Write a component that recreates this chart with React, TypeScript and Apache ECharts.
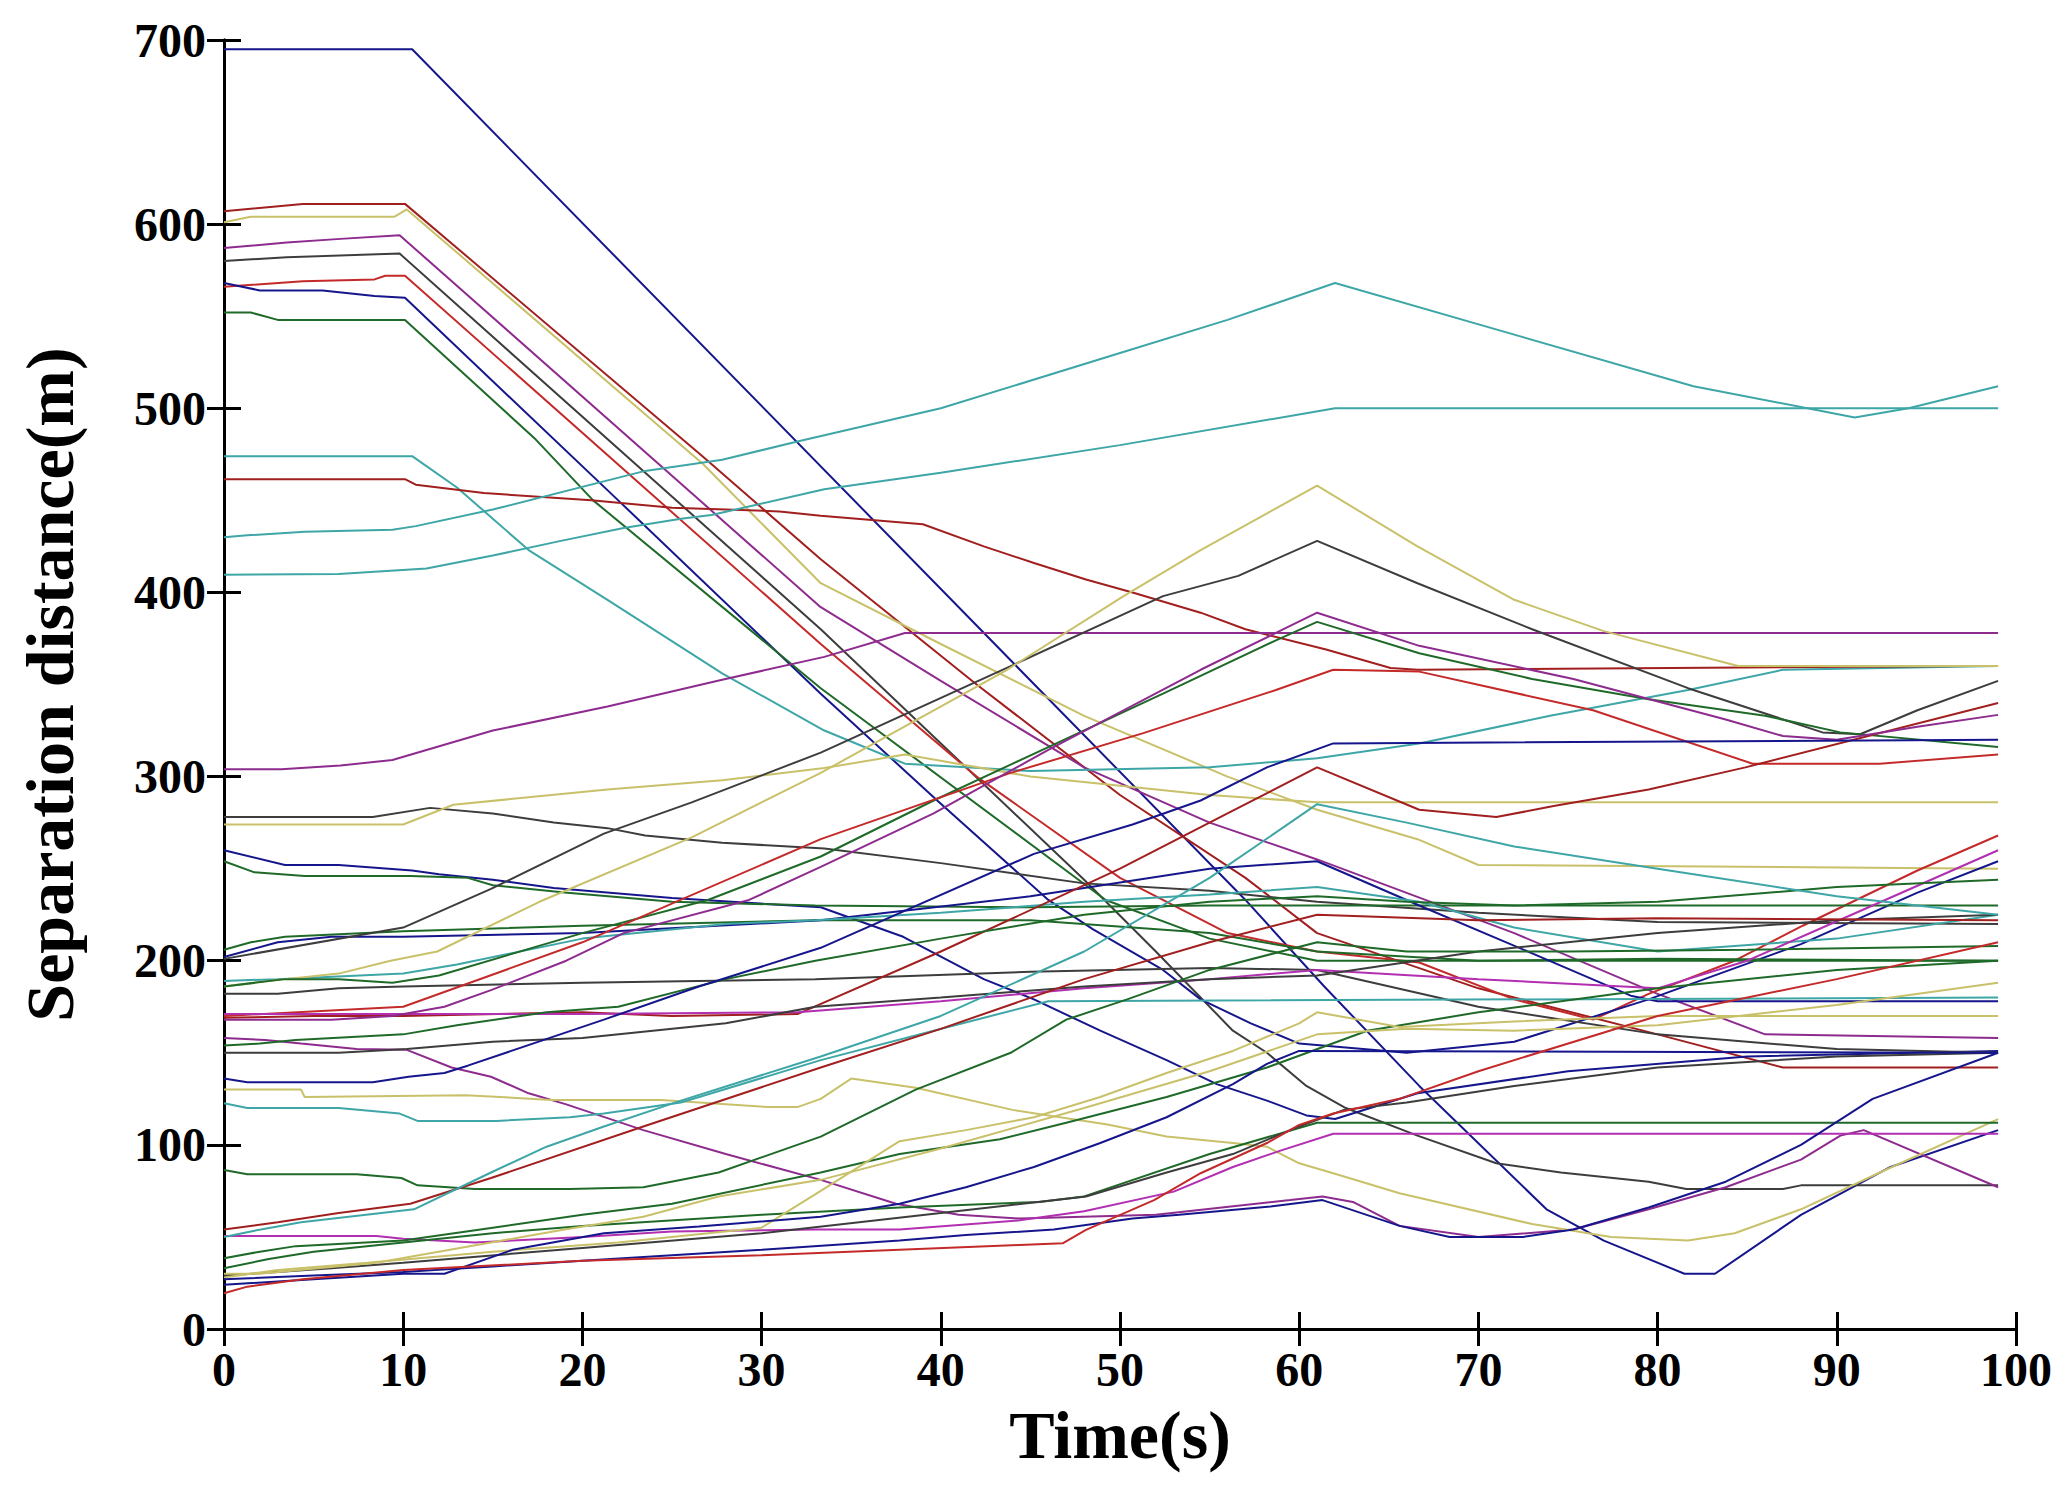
import React, { useEffect, useRef } from "react";
import * as echarts from "echarts";

// ---- axis ticks ----
const xMin = 0, xMax = 100, xStep = 10;
const yMin = 0, yMax = 700, yStep = 100;
const xTitle = "Time(s)";
const yTitle = "Separation distance(m)";

// ---- colours ----
const NAVY = "#16168c";
const DRED = "#a11f1f";
const RED = "#c42a2a";
const YEL = "#c9c169";
const PUR = "#8e2b8e";
const MAG = "#b22fb2";
const GRAY = "#3d3d3d";
const GRN = "#1f6a29";
const TEAL = "#3ea6a6";

// ---- series values [time, distance] ----
const navy695 = [[0,695],[10.5,695],[57,233],[61.4,186],[66.7,132],[73.8,65],[77,48],[81.5,30],[83.2,30],[88,62],[93,88],[99,108]];
const red609 = [[0,607],[4.4,611],[10.1,611],[26.7,474],[33.3,418],[42,350],[50,290],[57,245],[61,215],[70,185],[80,160],[87,142],[99,142]];
const yellow602 = [[0,601],[1.5,604],[9.5,604],[10.2,608],[26.7,470],[33.3,405],[40,372],[48,333],[56,300],[61,282],[66.6,266],[70,252],[99,250]];
const purple594 = [[0,587],[3.5,590],[6.5,592],[9.8,594],[33.3,392],[40,352],[48,305],[55,275],[61,255],[72,215],[80,182],[86,160],[99,158]];
const gray584 = [[0,580],[3.5,582],[9.8,584],[33.3,380],[48,244],[52,205],[56.3,162],[58.2,150],[60.4,132],[62.6,120],[66.6,105],[71,90],[74.6,85],[79.5,80],[81.6,76],[87,76],[88,78],[99,78]];
const red572 = [[0,566],[4.4,569],[8.4,570],[9,572],[10.1,572],[33.3,372],[42,300],[50,245],[56,215],[61,205],[66.7,199],[72,179],[76.4,168],[79.5,182],[84.3,200],[88.1,219],[94.5,249],[99,268]];
const navy560 = [[0,568],[2,564],[5.5,564],[8.4,561],[10.1,560],[22,450],[33.3,345],[39.8,287],[46,233],[48.5,217],[52.4,195],[54.5,179],[57.3,166],[60,155],[66,150],[72,156],[79.5,179],[88,209],[94.5,237],[99,254]];
const green548 = [[0,552],[1.5,552],[3,548],[10.1,548],[17.4,483],[20.6,450],[33.3,348],[49.2,233],[55,212],[61,200],[99,200]];
const teal474 = [[0,474],[10.5,474],[13,457],[17,423],[21.4,396],[27.8,356],[33.5,325],[38,307],[45,303],[55,305],[61,310],[66.7,318],[74,333],[81.7,347],[87,358],[99,360]];
const red461 = [[0,461.5],[10.1,461.5],[10.7,458.5],[14.5,454],[20.5,450],[25,446],[31,444],[33.3,441.6],[39,437],[42.4,425],[45.2,416],[48.1,407],[50.7,400],[54.5,389],[57,380],[61.5,369],[65.1,359],[66.6,358],[97.5,360]];
const teal430 = [[0,430],[1.3,431],[4.5,433],[9.4,434],[10.7,436],[15,445],[23.5,466],[27.8,472],[32,482],[40,500],[50,530],[56,548],[62,568],[72,540],[82,512],[91,495],[94,500],[99,512]];
const teal409 = [[0,409.6],[6.4,410],[11.3,413],[15,420],[18.8,428],[22.3,435],[25.5,440],[27.2,442],[33.5,456],[40,465],[50,480],[62,500],[99,500]];
const purple304 = [[0,304],[3.2,304],[6.5,306],[9.4,309],[15,325],[21.4,338],[27.8,352.6],[33.5,365],[38,378],[99,378]];
const gray278 = [[0,278],[8.3,278],[11.5,283],[15,280],[18.4,275],[21.4,272],[23.5,268],[27.8,264],[33.5,261],[40,253],[48,242],[55,238],[61,232],[70,226],[80,221],[99,220]];
const yellow274 = [[0,274],[10,274],[12.8,284.7],[21.4,293],[27.8,298],[33.5,304.6],[38,312],[45,300],[55,290],[61,286],[99,286]];
const navy260 = [[0,260],[3.4,252],[6.4,252],[10.5,249],[12,247],[15,244],[18.4,239.5],[25,234],[33.3,229],[37.9,213],[42.4,190],[45.2,179],[48.9,162],[52.6,146],[55.4,133],[58.2,124],[60.4,116],[62,114],[66.6,128],[75,140],[85,148],[99,151]];
const green254 = [[0,254],[1.7,248],[4.5,246],[10.4,246],[13.6,245],[15,241],[19,237],[25,232],[33,230],[45,229],[55,230],[61,230],[99,230]];
const green208 = [[0,206],[1.5,210],[3.4,213],[10,216],[20,219],[33,222],[45,222],[55,215],[61,205],[70,200],[80,201],[99,200]];
const navy203 = [[0,202],[3,210],[6,213],[10,213],[20,215],[33.3,222],[45,235],[55,250],[61,254],[66.7,230],[73,204],[78.5,181],[80,178],[99,178]];
const gray201 = [[0,201],[10,218],[14.9,239],[21.2,269],[26.1,286],[33.3,313],[43.9,360],[52.4,398],[56.6,409],[61,428],[66.6,405],[73,380],[81.7,348],[89.2,324],[91.3,323],[94.5,336],[99,352]];
const teal189 = [[0,189],[3,190],[10,193],[13,198],[20,212],[28,220],[33,222],[40,226],[48,232],[55,236],[61,240],[66.7,232],[72,218],[80,205],[90,212],[99,225]];
const yellow187 = [[0,186],[3.4,190],[6.4,193],[9.3,200],[11.9,205],[17.6,232],[26.1,267],[33.3,302],[43.7,358],[50.2,398],[54.5,423],[61,458],[66.6,425],[72,396],[77,379],[84.5,360],[99,360]];
const green186 = [[0,186],[3.4,190],[6.4,190],[9.4,188],[12,192],[20,215],[27,233],[33.3,256.6],[39.6,287],[46,316],[52.4,345],[58.7,374],[61,384],[66.7,367],[73,353],[79.5,342],[86,333],[90.2,324],[99,316]];
const gray182 = [[0,182],[3,182],[6.4,185],[10,186],[20,188],[33,190],[45,194],[55,196],[61,195],[70,175],[80,160],[90,152],[99,150]];
const redA170 = [[0,170],[10,175],[20,210],[33.3,266],[43.9,302],[51.3,323.6],[58.7,347],[61.9,358],[66.7,357],[76.4,336],[85.3,307],[92.4,307],[99,312]];
const redB170 = [[0,169],[5,170],[10,170],[20,172],[25,170],[32,171],[40,205],[50,250],[56,280],[61,305],[66.7,282],[71,278],[74.2,284],[79.5,293],[84.9,305],[99,340]];
const magenta171 = [[0,171],[10,171],[20,171],[32,172],[40,178],[48,185],[55,190],[61,195],[70,190],[80,185],[85,200],[92,230],[99,260]];
const purple168 = [[0,168],[6,168],[9.4,170],[12.3,175],[14.9,184],[19.1,200],[22.3,215],[29.3,233],[33.3,251],[39.6,280],[46,314.5],[54.5,358],[58.7,378],[61,389],[66.7,371],[75.3,353],[83.8,331],[87,322],[90,320],[94.5,327],[99,333.5]];
const purple158 = [[0,158],[2.3,157],[4.3,155],[7.4,152],[10.2,151.6],[12.7,142],[14.9,137],[17,128],[19.1,122],[23.4,108],[28,95],[33.3,81],[37.5,68],[41,62],[44.4,60],[52,62],[59.5,70],[61.3,72],[63,69],[65.6,56],[70,50],[75.3,54],[79.5,65],[83.8,77],[88,92],[90.2,105],[91.5,108],[99,77]];
const gray150 = [[0,150],[6.4,150],[10.2,152],[15,156],[20,158],[28,166],[33,175],[40,180],[48,186],[55,190],[61,192],[70,205],[80,215],[90,222],[99,225]];
const green154 = [[0,154],[2,155],[4,157],[10,160],[13,165],[18,172],[22,175],[28,190],[33,200],[40,212],[48,225],[55,232],[61,235],[66,232],[72,230],[80,232],[90,240],[99,244]];
const navy136 = [[0,136],[1.3,134],[8.3,134],[10.3,137],[12.3,139],[13.6,143],[21.2,168],[26.5,186],[33.3,207],[45.2,258],[50.7,274],[54.5,287],[58.2,305],[61.9,318],[99,320]];
const yellow130 = [[0,130],[4.3,130],[4.5,126],[13.5,127],[18.3,124.4],[24.4,124.4],[30.4,120.5],[32,120.5],[33.3,125],[35,136],[38.6,131],[44,119],[49.3,111],[52.6,104.5],[56.3,101],[58.2,99],[60,90],[61.9,84.6],[65.6,73.7],[73,57],[77.4,50],[81.7,48],[84.3,52],[88,65],[92.4,85],[99,114]];
const teal122 = [[0,122.6],[1.3,120],[6.4,120],[9.8,117],[10.8,113],[15.2,113],[19.3,115],[21.2,117],[25.5,123],[33.3,146],[39.6,162],[46,178],[99,180]];
const green86 = [[0,86.4],[1.3,84],[7.4,84],[9.9,82],[10.8,78],[14,76],[19.3,76],[23.4,77],[27.6,85],[33.3,104.5],[38.6,130],[43.9,150],[47,168],[50.4,179],[55,195],[61,210],[66,205],[75,205],[85,206],[99,208]];
const red54 = [[0,54],[3,58],[6.4,63],[10.4,68],[14.9,82],[23.4,110],[33.3,142],[40,163],[48,190],[55,210],[61,225],[70,222],[80,223],[99,222]];
const purple50 = [[0,50.5],[8.5,50.5],[10,49],[14,47],[20,50],[25,53],[33,54],[37.7,54],[44.4,59],[48,64],[53,74.6],[56.3,88],[59,97],[61.9,106],[99,106]];
const teal50 = [[0,50],[1.5,53],[4.3,58],[10.6,65],[14.9,85],[18,99],[21.2,110],[25.5,124],[33.3,148],[40,170],[48,205],[55,245],[61,285],[66,275],[72,262],[80,250],[90,235],[99,225]];
const green38 = [[0,38.4],[2,42],[4,45],[10,48],[15,55],[20,62],[25,68],[33.3,85],[37.7,95],[43.3,103],[47,112],[52.6,126],[58.2,142],[63.8,162],[70,172],[80,185],[90,195],[99,200]];
const green33 = [[0,33],[2.5,38],[5,42],[10,47],[15,52],[20,56],[30,62],[37.7,66],[45.5,69],[48,72],[55,95],[61,112],[99,112]];
const gray29 = [[0,29],[3,31],[6,33],[10,36],[20,44],[30,52],[40,63],[48.1,72],[52.6,85],[56.3,95],[60,110],[62.5,119],[66,123],[72,132],[80,142],[90,148],[99,150]];
const yellow28 = [[0,28],[3,32],[8,36],[15,42],[22,47],[30,55],[33.3,75],[37.7,102],[41.4,108],[45.2,115],[48.9,126],[52.6,139],[56.3,151],[60,166],[61,172],[65.6,164],[72,167],[80,170],[99,170]];
const yellow30 = [[0,30],[2,30],[8.5,36],[14.9,47],[19,54],[23.4,61],[27.6,72],[33.3,81],[40,98],[48,120],[55,140],[61,160],[66,163],[72,162],[80,165],[90,176],[99,188]];
const navy25 = [[0,24],[5,27],[10,30],[12.3,30],[16.1,43],[21.2,52],[26.5,55.6],[33.3,61],[37.7,68],[41.4,77],[45.2,88],[48.9,101],[52.6,115],[56.3,133],[58.2,144],[60,151],[99,150]];
const navy27 = [[0,27],[5,29],[10,31],[15,34],[20,37],[30,43],[37.7,48],[41.4,51],[46.3,54],[50.7,60],[53.3,62],[58.4,66.5],[61.3,70],[65.6,56],[68.4,50],[72.5,50],[75.3,54],[79.5,66],[83.8,80],[88,100],[92,125],[99,150]];
const red19 = [[0,19.4],[1.3,23],[4.4,27],[10,32],[20,37],[30,40],[37.7,43],[44.4,45.6],[46.8,46.5],[48.1,53.8],[51.9,70],[54.5,84.6],[58.2,101],[60,110.8],[61.9,117],[65.6,125],[70,140],[80,170],[90,190],[99,210]];

const lines: [string, number[][], string][] = [
  ["navy695", navy695, NAVY], ["red609", red609, DRED], ["yellow602", yellow602, YEL],
  ["purple594", purple594, PUR], ["gray584", gray584, GRAY], ["red572", red572, RED],
  ["navy560", navy560, NAVY], ["green548", green548, GRN], ["teal474", teal474, TEAL],
  ["red461", red461, DRED], ["teal430", teal430, TEAL], ["teal409", teal409, TEAL],
  ["purple304", purple304, PUR], ["gray278", gray278, GRAY], ["yellow274", yellow274, YEL],
  ["navy260", navy260, NAVY], ["green254", green254, GRN], ["green208", green208, GRN],
  ["navy203", navy203, NAVY], ["gray201", gray201, GRAY], ["teal189", teal189, TEAL],
  ["yellow187", yellow187, YEL], ["green186", green186, GRN], ["gray182", gray182, GRAY],
  ["redA170", redA170, RED], ["redB170", redB170, DRED], ["magenta171", magenta171, MAG],
  ["purple168", purple168, PUR], ["purple158", purple158, PUR], ["gray150", gray150, GRAY],
  ["green154", green154, GRN], ["navy136", navy136, NAVY], ["yellow130", yellow130, YEL],
  ["teal122", teal122, TEAL], ["green86", green86, GRN], ["red54", red54, DRED],
  ["purple50", purple50, MAG], ["teal50", teal50, TEAL], ["green38", green38, GRN],
  ["green33", green33, GRN], ["gray29", gray29, GRAY], ["yellow28", yellow28, YEL],
  ["yellow30", yellow30, YEL], ["navy25", navy25, NAVY], ["navy27", navy27, NAVY],
  ["red19", red19, RED],
];

const FONT = "'Liberation Serif', 'Times New Roman', serif";

function buildOption() {
  const tickStyle = { show: true, inside: true, length: 17, lineStyle: { color: "#000", width: 3 } };
  const lineStyle = { show: true, lineStyle: { color: "#000", width: 3 } };
  const label = { color: "#000", fontFamily: FONT, fontWeight: "bold" as const, fontSize: 48 };
  return {
    animation: false,
    backgroundColor: "#fff",
    grid: { left: 224, right: 48, top: 40, bottom: 156, containLabel: false },
    xAxis: [
      {
        type: "value", min: xMin, max: xMax, interval: xStep, position: "bottom",
        axisLine: lineStyle, axisTick: tickStyle, splitLine: { show: false },
        axisLabel: { ...label, margin: 16 },
        name: xTitle, nameLocation: "middle", nameGap: 72,
        nameTextStyle: { color: "#000", fontFamily: FONT, fontWeight: "bold", fontSize: 68 },
      },
      {
        type: "value", min: xMin, max: xMax, interval: xStep, position: "top",
        axisLine: lineStyle, axisTick: tickStyle, splitLine: { show: false }, axisLabel: { show: false },
      },
    ],
    yAxis: [
      {
        type: "value", min: yMin, max: yMax, interval: yStep, position: "left",
        axisLine: lineStyle, axisTick: tickStyle, splitLine: { show: false },
        axisLabel: { ...label, margin: 18 },
        name: yTitle, nameLocation: "middle", nameGap: 140, nameRotate: 90,
        nameTextStyle: { color: "#000", fontFamily: FONT, fontWeight: "bold", fontSize: 68 },
      },
      {
        type: "value", min: yMin, max: yMax, interval: yStep, position: "right",
        axisLine: lineStyle, axisTick: tickStyle, splitLine: { show: false }, axisLabel: { show: false },
      },
    ],
    series: lines.map(([name, data, color]) => ({
      name, type: "line", data, showSymbol: false, symbol: "none", silent: true,
      xAxisIndex: 0, yAxisIndex: 0,
      lineStyle: { color, width: 2 }, emphasis: { disabled: true },
    })),
  };
}

export default function App() {
  const ref = useRef<HTMLDivElement>(null);
  useEffect(() => {
    document.body.style.margin = "0";
    document.body.style.overflow = "hidden";
    const chart = echarts.init(ref.current!, null, { renderer: "svg" });
    chart.setOption(buildOption() as any);
    return () => chart.dispose();
  }, []);
  return <div ref={ref} style={{ width: 2064, height: 1485, background: "#fff" }} />;
}
